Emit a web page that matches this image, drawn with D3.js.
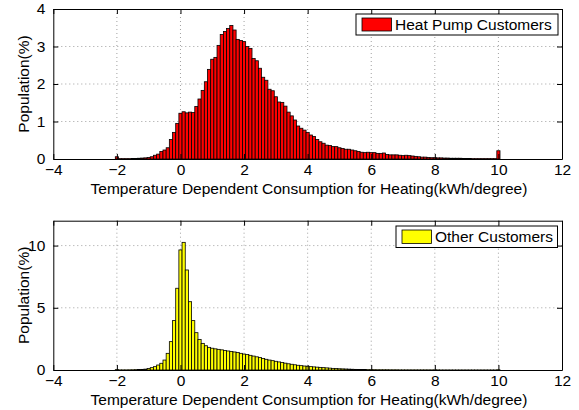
<!DOCTYPE html>
<html>
<head>
<meta charset="utf-8">
<script src="https://cdn.jsdelivr.net/npm/d3@7"></script>
<style>
  html, body { margin: 0; padding: 0; background: #fff; }
  svg { display: block; }
  text { font-family: "Liberation Sans", Arial, Helvetica, sans-serif; fill: #000; }
</style>
</head>
<body>
<svg id="chart" width="579" height="410"></svg>
<script>
// ---- Data ----
const binStart = -2.0;   // first bin centre
const binWidth = 0.1;
const xTicks = [-4, -2, 0, 2, 4, 6, 8, 10, 12];
const yTicksTop = [0, 1, 2, 3, 4];
const yTicksBottom = [0, 5, 10];
const xLabel = "Temperature Dependent Consumption for Heating(kWh/degree)";
const yLabel = "Population(%)";
const seriesNames = ["Heat Pump Customers", "Other Customers"];

// Heat pump customers, bins -2.0 ... 10.0 (step 0.1)
const heatPump = [
  0.06,                                                           // -2.0
  0.01, 0.01, 0.01, 0.01, 0.015, 0.015, 0.02, 0.025, 0.03, 0.04,  // -1.9 .. -1.0
  0.06, 0.10, 0.13, 0.20, 0.24, 0.30, 0.52, 0.71, 0.95, 1.22,     // -0.9 .. 0.0
  1.26, 1.23, 1.25, 1.24, 1.40, 1.60, 1.83, 2.06, 2.39, 2.66,     // 0.1 .. 1.0
  2.71, 3.03, 3.32, 3.40, 3.48, 3.56, 3.44, 3.19, 3.16, 3.13,     // 1.1 .. 2.0
  3.00, 2.95, 2.68, 2.62, 2.42, 2.18, 2.10, 1.86, 1.82, 1.66,     // 2.1 .. 3.0
  1.52, 1.51, 1.41, 1.25, 1.15, 1.04, 0.88, 0.82, 0.77, 0.71,     // 3.1 .. 4.0
  0.64, 0.60, 0.52, 0.46, 0.42, 0.37, 0.36, 0.33, 0.33, 0.30,     // 4.1 .. 5.0
  0.28, 0.26, 0.26, 0.24, 0.22, 0.20, 0.18, 0.17, 0.18, 0.17,     // 5.1 .. 6.0
  0.17, 0.15, 0.15, 0.16, 0.12, 0.11, 0.11, 0.11, 0.10, 0.09,     // 6.1 .. 7.0
  0.10, 0.09, 0.08, 0.07, 0.06, 0.05, 0.05, 0.04, 0.035, 0.035,   // 7.1 .. 8.0
  0.03, 0.03, 0.025, 0.025, 0.02, 0.02, 0.02, 0.02, 0.015, 0.015, // 8.1 .. 9.0
  0.015, 0.01, 0.01, 0.01, 0.01, 0.01, 0.01, 0.01, 0.01, 0.22     // 9.1 .. 10.0
];

// Other customers, bins -2.0 ... 10.0 (step 0.1)
const other = [
  0.03,                                                           // -2.0
  0.01, 0.01, 0.01, 0.015, 0.02, 0.03, 0.04, 0.05, 0.07, 0.12,    // -1.9 .. -1.0
  0.19, 0.27, 0.40, 0.54, 0.80, 1.34, 2.28, 3.97, 6.57, 9.65,     // -0.9 .. 0.0
  10.26, 8.04, 5.49, 3.97, 3.00, 2.46, 2.14, 1.95, 1.82, 1.75,    // 0.1 .. 1.0
  1.70, 1.66, 1.62, 1.57, 1.53, 1.49, 1.45, 1.40, 1.34, 1.28,     // 1.1 .. 2.0
  1.24, 1.18, 1.12, 1.06, 1.00, 0.93, 0.86, 0.80, 0.75, 0.70,     // 2.1 .. 3.0
  0.65, 0.60, 0.55, 0.50, 0.46, 0.42, 0.38, 0.35, 0.32, 0.30,     // 3.1 .. 4.0
  0.27, 0.25, 0.23, 0.21, 0.19, 0.17, 0.15, 0.13, 0.12, 0.10,     // 4.1 .. 5.0
  0.09, 0.08, 0.07, 0.06, 0.05, 0.045, 0.04, 0.035, 0.03, 0.03,   // 5.1 .. 6.0
  0.025, 0.02, 0.02, 0.02, 0.02, 0.015, 0.015, 0.015, 0.01, 0.01, // 6.1 .. 7.0
  0.01, 0.01, 0.01, 0.01, 0.01, 0.01, 0.01, 0.01, 0.01, 0.01,     // 7.1 .. 8.0
  0.01, 0.005, 0.005, 0.005, 0.005, 0.005, 0.005, 0.005, 0.005, 0.005, // 8.1 .. 9.0
  0.005, 0.005, 0.005, 0.005, 0.005, 0.005, 0.005, 0.005, 0.005, 0.02  // 9.1 .. 10.0
];

// ---- Drawing ----
const svg = d3.select("#chart");
const left = 53.3, right = 562;
const FS = "15.5px";

function panel(cfg) {
  const x = d3.scaleLinear().domain([-4, 12]).range([left, right]);
  const y = d3.scaleLinear().domain(cfg.yDomain).range([cfg.bottom, cfg.top]);
  const g = svg.append("g");

  // grid
  g.append("g").selectAll("line").data(xTicks.slice(1, -1)).join("line")
    .attr("x1", d => x(d)).attr("x2", d => x(d))
    .attr("y1", cfg.top).attr("y2", cfg.bottom)
    .attr("stroke", "#888").attr("stroke-width", 0.8).attr("stroke-dasharray", "1,3");
  g.append("g").selectAll("line").data(cfg.yTicks.filter(d => d > cfg.yDomain[0] && d < cfg.yDomain[1])).join("line")
    .attr("x1", left).attr("x2", right)
    .attr("y1", d => y(d)).attr("y2", d => y(d))
    .attr("stroke", "#888").attr("stroke-width", 0.8).attr("stroke-dasharray", "1,3");

  // bars
  const data = cfg.values.map((v, i) => ({ c: binStart + i * binWidth, v }));
  g.append("g").selectAll("rect").data(data).join("rect")
    .attr("x", d => x(d.c - binWidth / 2))
    .attr("width", d => x(d.c + binWidth / 2) - x(d.c - binWidth / 2))
    .attr("y", d => y(d.v))
    .attr("height", d => Math.max(0, y(0) - y(d.v)))
    .attr("fill", cfg.color)
    .attr("stroke", "#000").attr("stroke-width", 0.8);

  // axes (MATLAB-style box with inward ticks)
  const tick = 5;
  const axB = d3.axisBottom(x).tickValues(xTicks).tickSizeInner(-tick).tickSizeOuter(0).tickPadding(5)
    .tickFormat(d => d < 0 ? "\u2212" + Math.abs(d) : String(d));
  const axT = d3.axisTop(x).tickValues(xTicks).tickSizeInner(-tick).tickSizeOuter(0).tickFormat("");
  const axL = d3.axisLeft(y).tickValues(cfg.yTicks).tickSizeInner(-tick).tickSizeOuter(0).tickPadding(8)
    .tickFormat(d3.format("d"));
  const axR = d3.axisRight(y).tickValues(cfg.yTicks).tickSizeInner(-tick).tickSizeOuter(0).tickFormat("");

  const styleAxis = sel => {
    sel.select(".domain").attr("stroke", "#000").attr("stroke-width", 1);
    sel.selectAll(".tick line").attr("stroke", "#000");
    sel.selectAll(".tick text").style("font-family", "'Liberation Sans', Arial, sans-serif")
      .style("font-size", FS).attr("fill", "#000");
  };
  g.append("g").attr("transform", `translate(0,${cfg.bottom})`).call(axB).call(styleAxis);
  g.append("g").attr("transform", `translate(0,${cfg.top})`).call(axT).call(styleAxis);
  g.append("g").attr("transform", `translate(${left},0)`).call(axL).call(styleAxis);
  g.append("g").attr("transform", `translate(${right},0)`).call(axR).call(styleAxis);

  // labels
  g.append("text").attr("x", 309).attr("y", cfg.bottom + 35)
    .attr("text-anchor", "middle").style("font-size", FS).text(xLabel);
  g.append("text")
    .attr("transform", `translate(29,${(cfg.top + cfg.bottom) / 2}) rotate(-90)`)
    .attr("text-anchor", "middle").style("font-size", FS).text(yLabel);

  // legend
  const L = cfg.legend;
  g.append("rect").attr("x", L.x).attr("y", L.y).attr("width", L.w).attr("height", L.h)
    .attr("fill", "#fff").attr("stroke", "#000").attr("stroke-width", 1);
  g.append("rect").attr("x", L.x + 6).attr("y", L.y + 4).attr("width", 29.5).attr("height", L.h - 8)
    .attr("fill", cfg.color).attr("stroke", "#000").attr("stroke-width", 0.8);
  g.append("text").attr("x", L.x + 39).attr("y", L.y + L.h / 2 + 5.5)
    .style("font-size", FS).text(cfg.name);
}

panel({
  values: heatPump, color: "#ff0000", name: seriesNames[0],
  top: 9, bottom: 159, yDomain: [0, 4], yTicks: yTicksTop,
  legend: { x: 356, y: 14, w: 202, h: 21 }
});
panel({
  values: other, color: "#ffff00", name: seriesNames[1],
  top: 220.7, bottom: 370, yDomain: [0, 12], yTicks: yTicksBottom,
  legend: { x: 396, y: 226, w: 161.5, h: 21.5 }
});
</script>
</body>
</html>
